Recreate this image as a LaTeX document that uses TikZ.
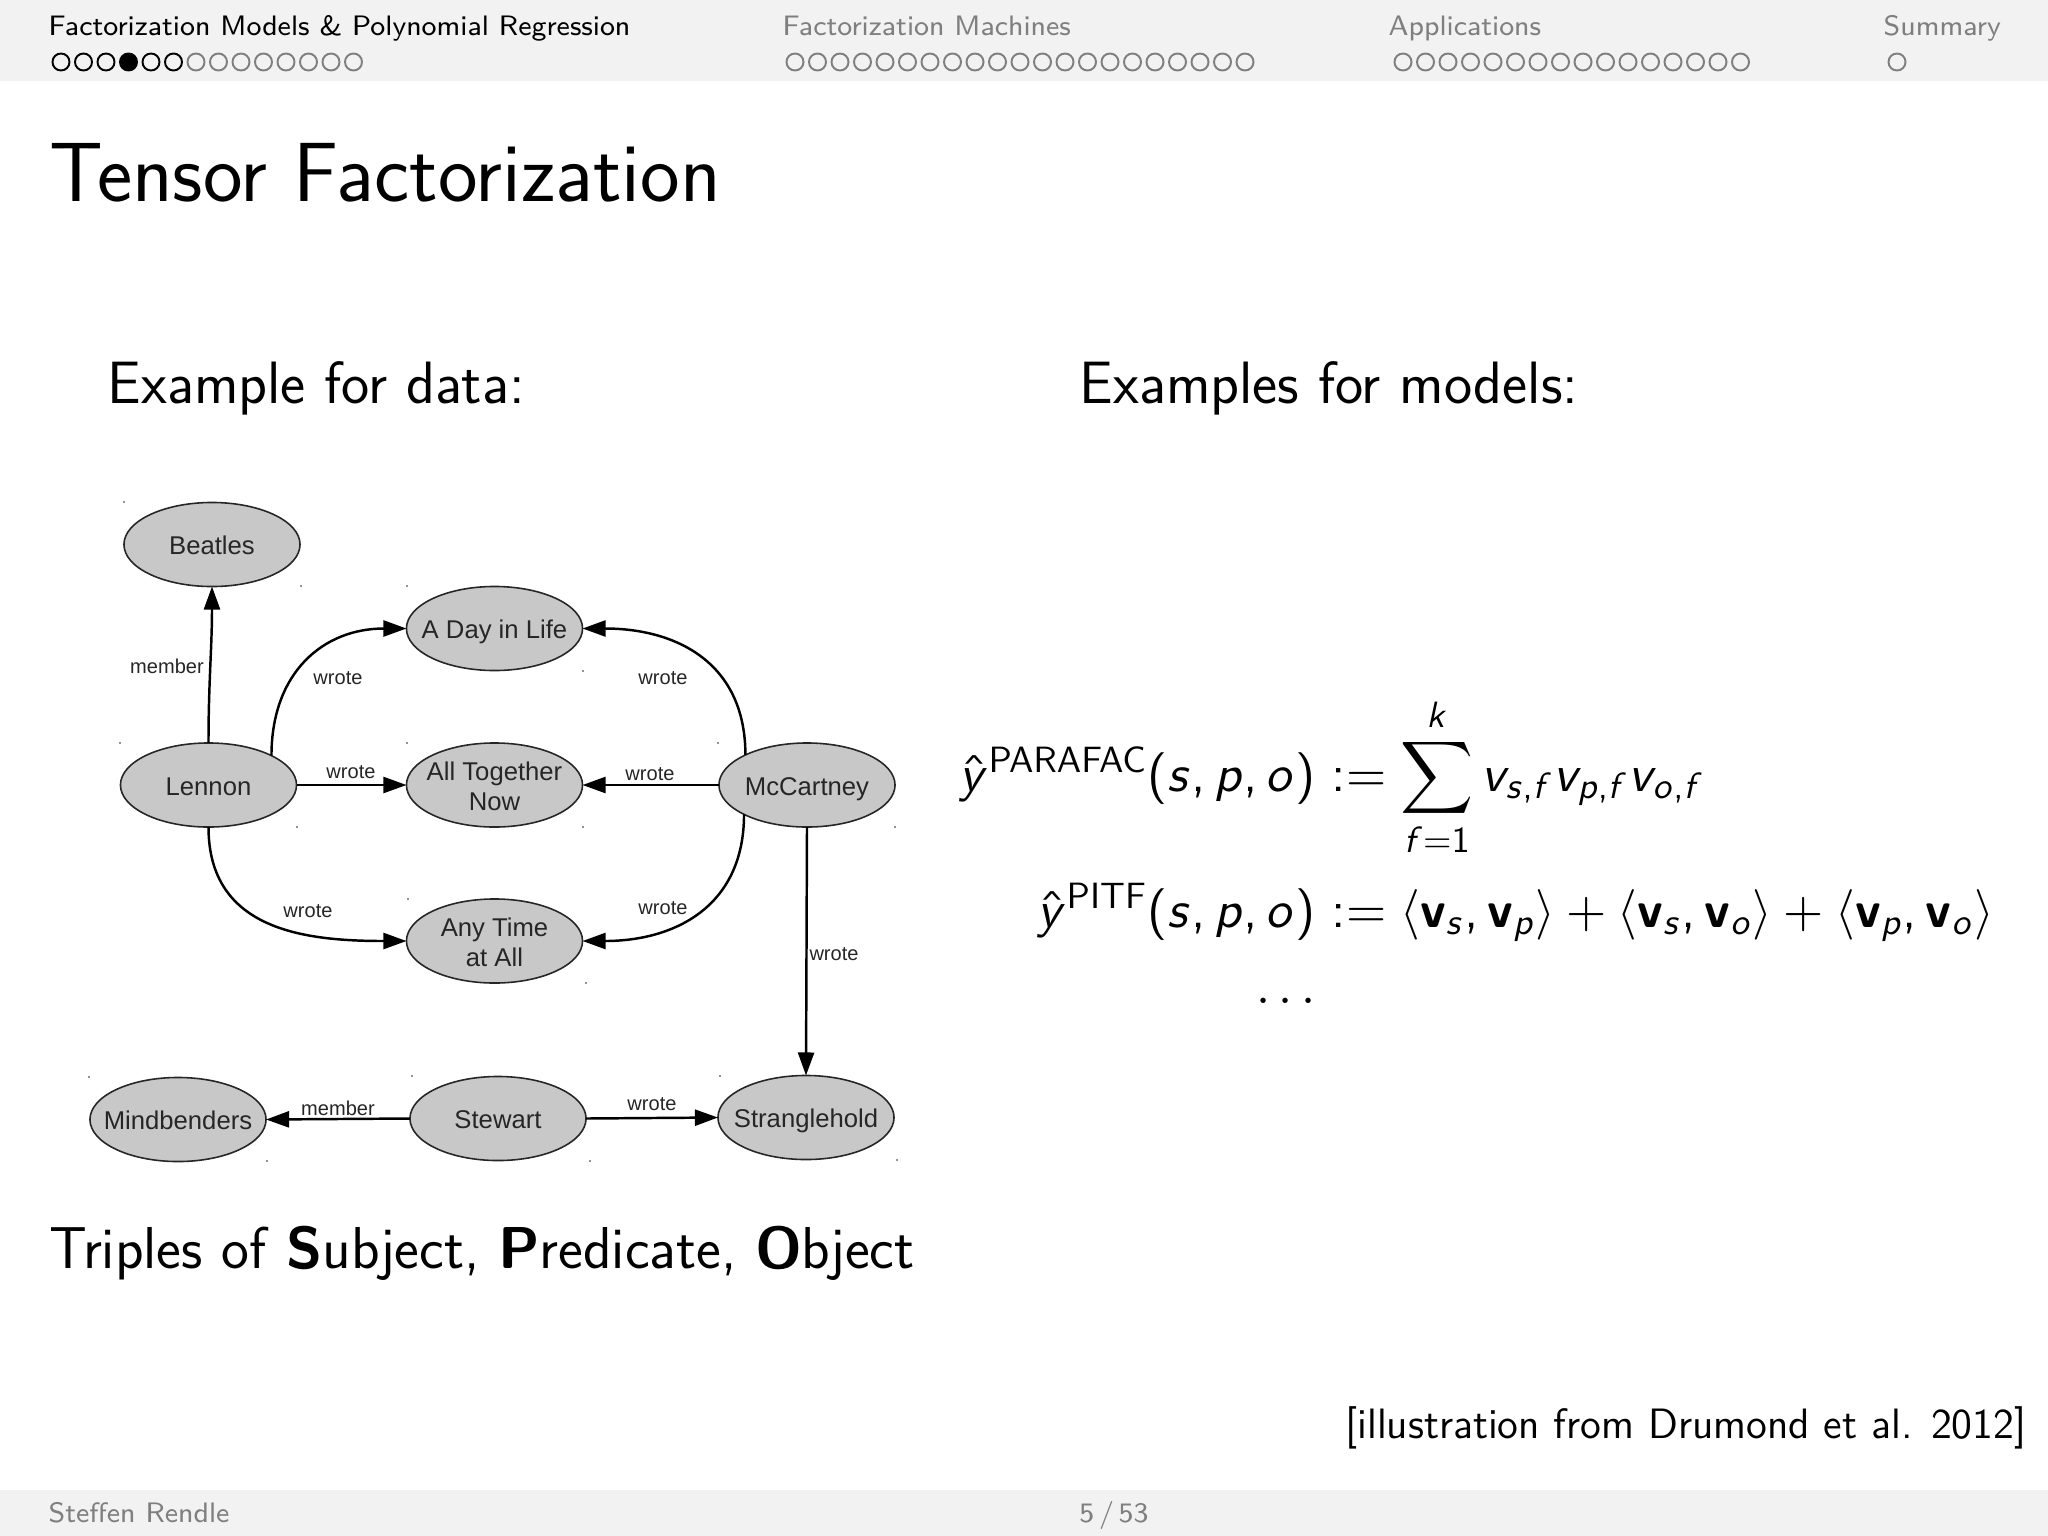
\documentclass[tikz,border=0pt]{standalone}
\usepackage{amsmath}
\usepackage{exscale}
\usepackage[no-math]{fontspec}
\usetikzlibrary{shapes.geometric,arrows.meta}

\newfontfamily\grapffont{Liberation Sans}
\renewcommand{\familydefault}{\sfdefault}

% sans serif math, as the slide has it
\DeclareFontFamily{OT1}{slidesf}{}
\DeclareFontShape{OT1}{slidesf}{m}{n}{<-> cmss10}{}
\DeclareFontShape{OT1}{slidesf}{m}{sl}{<-> cmssi10}{}
\DeclareFontShape{OT1}{slidesf}{bx}{n}{<-> cmssbx10}{}
\SetSymbolFont{operators}{normal}{OT1}{slidesf}{m}{n}
\SetSymbolFont{letters}{normal}{OT1}{slidesf}{m}{sl}
\SetMathAlphabet{\mathbf}{normal}{OT1}{slidesf}{bx}{n}
\DeclareMathSymbol{,}{\mathpunct}{operators}{`\,}
\DeclareMathSizes{14.7}{14.7}{10.4}{7.6}

\definecolor{barfill}{HTML}{F2F2F2}
\definecolor{navgray}{HTML}{7F7F7F}
\definecolor{entfill}{HTML}{C8C8C8}
\definecolor{graphink}{HTML}{262626}

\newcommand{\entname}[1]{\makebox[0pt]{\raisebox{-0.105cm}[0pt][0pt]{\begin{tabular}{@{}c@{}}#1\end{tabular}}}}

\tikzset{
  ent/.style={ellipse, draw=graphink, fill=entfill, line width=0.45pt, inner sep=0pt, outer sep=0pt,
    minimum width=1.76cm, minimum height=0.84cm, text=graphink, font=\grapffont\fontsize{7.3}{8.5}\selectfont},
  rel/.style={line width=0.7pt, draw=black, -{Triangle[length=2.3mm,width=1.6mm]}},
  rellab/.style={text=graphink, inner sep=0pt, font=\grapffont\fontsize{5.7}{7}\selectfont},
  navtext/.style={anchor=base west, inner sep=0pt, font=\fontsize{8}{10}\selectfont},
  bodytext/.style={inner sep=0pt, font=\fontsize{17}{20}\selectfont},
  mathtext/.style={inner sep=0pt, font=\fontsize{14.7}{18}\selectfont},
  navdot/.style={line width=0.55pt}
}

\begin{document}
\begin{tikzpicture}[x=0.01cm,y=-0.01cm]
  \useasboundingbox (0,0) rectangle (2048,1536);
  \fill[white] (0,0) rectangle (2048,1536);

  % head and foot bars
  \fill[barfill] (0,0) rectangle (2048,81);
  \fill[barfill] (0,1490) rectangle (2048,1536);

  \node[navtext] (secfm) at (48,35) {Factorization Models \& Polynomial Regression};
  \node[navtext, text=navgray] (secmach) at (782,35) {Factorization Machines};
  \node[navtext, text=navgray] (secapp) at (1388,35) {Applications};
  \node[navtext, text=navgray] (secsum) at (1883,35) {Summary};

  \foreach \i in {0,...,5}
    \draw[navdot] (61+22.5*\i,62) circle (0.085cm);
  \fill (61+22.5*3,62) circle (0.085cm);
  \foreach \i in {6,...,13}
    \draw[navdot, navgray] (61+22.5*\i,62) circle (0.085cm);
  \foreach \i in {0,...,20}
    \draw[navdot, navgray] (795+22.5*\i,62) circle (0.085cm);
  \foreach \i in {0,...,15}
    \draw[navdot, navgray] (1403+22.5*\i,62) circle (0.085cm);
  \draw[navdot, navgray] (1897,62) circle (0.085cm);

  \node[navtext, text=navgray] (author) at (48,1522) {Steffen Rendle};
  \node[inner sep=0pt, anchor=base, text=navgray, font=\fontsize{8}{10}\selectfont] (pageno) at (1114,1522) {5\,/\,53};

  % text of the slide
  \node[anchor=base west, inner sep=0pt, font=\fontsize{23.9}{28}\selectfont] (title) at (49,201) {Tensor Factorization};
  \node[bodytext, anchor=base west] (datahead) at (107,403) {Example for data:};
  \node[bodytext, anchor=base west] (modelhead) at (1079,403) {Examples for models:};
  \node[anchor=base west, inner sep=0pt, font=\fontsize{16.8}{20}\selectfont] (triples) at (49,1268) {Triples of \textbf{S}ubject, \textbf{P}redicate, \textbf{O}bject};
  \node[anchor=base east, inner sep=0pt, font=\fontsize{12.08}{15}\selectfont] (source) at (2027,1438) {[illustration from Drumond et al. 2012]};

  % the graph
  \node[ent] (beatles) at (212,544.5) {\entname{Beatles}};
  \node[ent] (dayinlife) at (494.5,628.5) {\entname{A Day in Life}};
  \node[ent] (lennon) at (208.5,785) {\entname{Lennon}};
  \node[ent] (together) at (494.5,785) {\entname{All Together\\Now}};
  \node[ent] (mccartney) at (807,785) {\entname{McCartney}};
  \node[ent] (anytime) at (494.5,941) {\entname{Any Time\\at All}};
  \node[ent] (mindbenders) at (178,1119.5) {\entname{Mindbenders}};
  \node[ent] (stewart) at (498,1118.5) {\entname{Stewart}};
  \node[ent] (stranglehold) at (806,1117.5) {\entname{Stranglehold}};

  \draw[rel] (lennon.north) to[out=90,in=-90] (beatles.south);
  \draw[rel] (lennon.25) to[out=90,in=180,looseness=1.15] (dayinlife.west);
  \draw[rel] (lennon.east) -- (together.west);
  \draw[rel] (lennon.south) to[out=-90,in=180,looseness=1.15] (anytime.west);
  \draw[rel] (mccartney.154.7) to[out=90,in=0,looseness=1.15] (dayinlife.east);
  \draw[rel] (mccartney.west) -- (together.east);
  \draw[rel] (mccartney.205.3) to[out=-90,in=0,looseness=1.15] (anytime.east);
  \draw[rel] (mccartney.south) -- (stranglehold.north);
  \draw[rel] (stewart.west) -- (mindbenders.east);
  \draw[rel] (stewart.east) -- (stranglehold.west);

  \foreach \nm/\px/\py/\txt in {lbmember/167/666/member, lbday/338/678/wrote, lbtog/351/772/wrote,
      lbany/308/911/wrote, lbdayr/663/678/wrote, lbtogr/650/774/wrote, lbanyr/663/908/wrote,
      lbstr/834/954/wrote, lbmind/338/1108/member, lbstew/652/1104/wrote}
    \node[rellab] (\nm) at (\px,\py) {\txt};

  % stray corner specks of the scanned figure
  \foreach \px/\py in {124/502, 301/586, 407/586, 120/743, 407/743, 297/827, 583/671, 718/743,
      583/827, 895/827, 408/899, 586/983, 89/1077, 412/1076, 720/1076, 267/1161, 590/1161, 897/1160}
    \fill[graphink] (\px,\py) circle (0.008cm);

  % the models
  \node[mathtext, anchor=base east] (parafacl) at (1316,791) {$\hat{y}^{\mathrm{PARAFAC}}(s,p,o)$};
  \node[mathtext, anchor=base west] (parafacr) at (1331,791) {$\displaystyle \mathrel{:=}\sum_{f=1}^{k} v_{s,f}v_{p,f}v_{o,f}$};
  \node[mathtext, anchor=base east] (pitfl) at (1316,927) {$\hat{y}^{\mathrm{PITF}}(s,p,o)$};
  \node[mathtext, anchor=base west] (pitfr) at (1331,927) {$\displaystyle \mathrel{:=}\left\langle\mathbf{v}_s,\mathbf{v}_p\right\rangle+\left\langle\mathbf{v}_s,\mathbf{v}_o\right\rangle+\left\langle\mathbf{v}_p,\mathbf{v}_o\right\rangle$};
  \node[mathtext] (moredots) at (1290,1002) {$\cdots$};
\end{tikzpicture}
\end{document}
